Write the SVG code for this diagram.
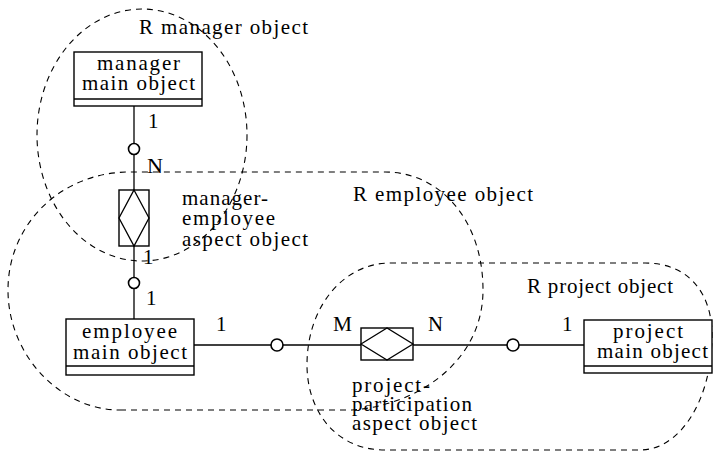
<svg xmlns="http://www.w3.org/2000/svg" width="714" height="453" viewBox="0 0 714 453">
<style>
text{font-family:"Liberation Serif","Times New Roman",serif;font-size:21px;fill:#000}
.reg{fill:none;stroke:#000;stroke-width:1.1;stroke-dasharray:6 5}
.box{fill:#fff;stroke:#000;stroke-width:1.4}
.ln{fill:none;stroke:#000;stroke-width:1.3}
.opt{fill:#fff;stroke:#000;stroke-width:1.6}
</style>
<rect width="714" height="453" fill="#fff"/>
<g id="regions">
<ellipse id="r-manager" class="reg" cx="142" cy="135" rx="105" ry="126"/>
<path id="r-employee" class="reg" d="M120,410 L352,410 C420,405 483,360 483,290 C483,220 440,172 385,172 L130,172 C60,172 8,225 8,290 C8,355 60,410 120,410 Z"/>
<path id="r-project" class="reg" d="M390,263 L645,263 C690,263 712,295 712,335 C712,400 680,450 640,450 L385,450 C335,450 307,410 307,365 C307,305 345,263 390,263 Z"/>
<text x="139" y="34" textLength="169" lengthAdjust="spacing">R manager object</text>
<text x="353" y="201" textLength="180" lengthAdjust="spacing">R employee object</text>
<text x="527" y="293" textLength="146" lengthAdjust="spacing">R project object</text>
</g>
<g id="connectors">
<line class="ln" x1="134" y1="106" x2="134" y2="190"/>
<line class="ln" x1="134" y1="246" x2="134" y2="319"/>
<line class="ln" x1="194" y1="345" x2="361" y2="345"/>
<line class="ln" x1="413" y1="345" x2="584" y2="345"/>
<circle class="opt" cx="134" cy="149" r="5.5"/>
<circle class="opt" cx="134" cy="283" r="5.5"/>
<circle class="opt" cx="277" cy="345" r="6"/>
<circle class="opt" cx="513" cy="345" r="6"/>
<text x="148" y="128">1</text>
<text x="147" y="173" textLength="16" lengthAdjust="spacingAndGlyphs">N</text>
<text x="143" y="264">1</text>
<text x="146" y="305">1</text>
<text x="216" y="331">1</text>
<text x="333" y="331" textLength="19" lengthAdjust="spacingAndGlyphs">M</text>
<text x="428" y="331" textLength="15" lengthAdjust="spacingAndGlyphs">N</text>
<text x="562" y="331">1</text>
</g>
<g id="manager-main">
<rect class="box" x="74" y="52" width="128" height="54"/>
<line class="ln" x1="74" y1="99" x2="202" y2="99"/>
<text x="97" y="70" textLength="83" lengthAdjust="spacing">manager</text>
<text x="82" y="90" textLength="113" lengthAdjust="spacing">main object</text>
</g>
<g id="manager-employee-aspect">
<rect class="box" x="119" y="190" width="30" height="56"/>
<polygon class="ln" points="134,190 149,218 134,246 119,218"/>
<text x="182" y="205" textLength="86" lengthAdjust="spacing">manager-</text>
<text x="182" y="225" textLength="93" lengthAdjust="spacing">employee</text>
<text x="182" y="246" textLength="126" lengthAdjust="spacing">aspect object</text>
</g>
<g id="employee-main">
<rect class="box" x="66" y="319" width="128" height="56"/>
<line class="ln" x1="66" y1="366" x2="194" y2="366"/>
<text x="82" y="338" textLength="95" lengthAdjust="spacing">employee</text>
<text x="73" y="359" textLength="114" lengthAdjust="spacing">main object</text>
</g>
<g id="project-participation-aspect">
<rect class="box" x="361" y="328" width="52" height="32"/>
<polygon class="ln" points="361,344 387,328 413,344 387,360"/>
<text x="352" y="392" textLength="78" lengthAdjust="spacing">project-</text>
<text x="352" y="411" textLength="120" lengthAdjust="spacing">participation</text>
<text x="352" y="430" textLength="125" lengthAdjust="spacing">aspect object</text>
</g>
<g id="project-main">
<rect class="box" x="584" y="320" width="128" height="53"/>
<line class="ln" x1="584" y1="366" x2="712" y2="366"/>
<text x="613" y="338" textLength="70" lengthAdjust="spacing">project</text>
<text x="597" y="358" textLength="111" lengthAdjust="spacing">main object</text>
</g>
</svg>
